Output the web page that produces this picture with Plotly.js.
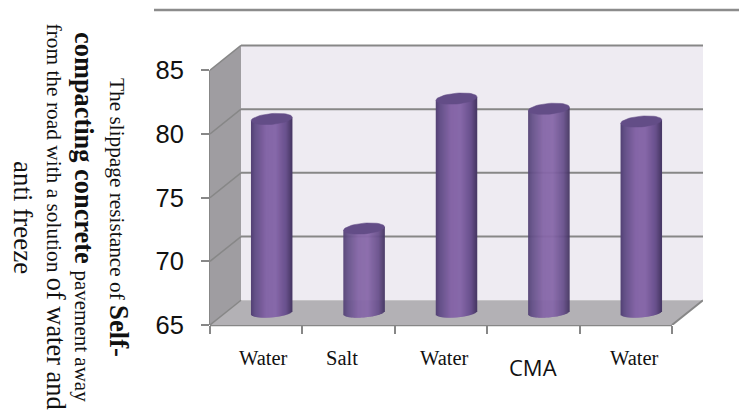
<!DOCTYPE html>
<html>
<head>
<meta charset="utf-8">
<script src="https://cdn.plot.ly/plotly-3.0.1.min.js"></script>
<style>html,body{margin:0;padding:0;background:#fff;overflow:hidden}#chart{width:739px;height:420px}</style>
</head>
<body>
<div id="chart"></div>
<script>
// Slippage resistance per de-icing solution
const categories = ['Water', 'Salt', 'Water', 'CMA', 'Water'];
const resistance = [80.2, 71.6, 81.8, 81.0, 80.0];
const yTicks = [65, 70, 75, 80, 85];
const xTicks = [0, 1, 2, 3, 4, 5];

// Plot frame in pixels and the scale that follows from it
const frame = {l: 210, r: 703, t: 40, b: 325};
const pxPerX = 92.4, pxPerY = 12.74;
const xRange = [0, (frame.r - frame.l) / pxPerX];
const yRange = [65, 65 + (frame.b - frame.t) / pxPerY];

// Oblique depth of the 3D box, in axis units
const depthX = 31 / pxPerX, depthY = 24.75 / pxPerY;

// Cylinder proportions, in axis units
const halfWidth = 20.5 / pxPerX;
const tilt = 1.7 / pxPerY;
const capB = 5.4 / pxPerY, footB = 4.8 / pxPerY;
const stripCount = 41;
const stripWidth = 1.5 / pxPerX;

const shadeStops = [
  [-1.0, [82, 65, 116]], [-0.8, [100, 80, 136]], [-0.25, [133, 102, 167]],
  [0.2, [135, 104, 169]], [0.72, [104, 80, 140]], [1.0, [70, 55, 100]]
];
function shade(u) {
  for (let i = 1; i < shadeStops.length; i++) {
    if (u <= shadeStops[i][0]) {
      const [u0, c0] = shadeStops[i - 1], [u1, c1] = shadeStops[i];
      const t = (u - u0) / (u1 - u0);
      return 'rgb(' + c0.map((c, k) => Math.round(c + (c1[k] - c) * t)).join(',') + ')';
    }
  }
  return 'rgb(70,55,100)';
}

const centers = categories.map((_, i) => i + 0.5 + depthX / 2);
const traces = [];

// Each cylinder is a stack of narrow vertical bars: the foot follows an ellipse
for (let j = 0; j < stripCount; j++) {
  const u = (j + 0.5) / stripCount * 2 - 1;
  const rim = Math.sqrt(1 - u * u);
  const base = centers.map(() => 65 + depthY / 2 + tilt * u - footB * rim);
  const top = resistance.map(v => v + depthY / 2 + tilt * u);
  traces.push({
    type: 'bar',
    x: centers.map(c => c + u * halfWidth),
    y: top.map((t, i) => t - base[i]),
    base: base,
    width: stripWidth,
    marker: {color: shade(u), line: {width: 0}},
    hoverinfo: 'skip', showlegend: false
  });
}

// Flat elliptical cap on each cylinder
resistance.forEach((v, i) => {
  const xs = [], ys = [];
  for (let k = 0; k <= 48; k++) {
    const t = k / 48 * 2 * Math.PI;
    xs.push(centers[i] + halfWidth * Math.cos(t));
    ys.push(v + depthY / 2 + tilt * Math.cos(t) + capB * Math.sin(t));
  }
  traces.push({
    type: 'scatter', mode: 'lines', x: xs, y: ys, fill: 'toself',
    fillcolor: '#634d87', line: {color: '#634d87', width: 0.5},
    hoverinfo: 'skip', showlegend: false
  });
});

// Box walls, floor and gridlines
const gridColor = '#878787';
const topFront = yTicks[yTicks.length - 1];
const xFront = xTicks[xTicks.length - 1];
function poly(points, fill) {
  return {
    type: 'path', xref: 'x', yref: 'y', layer: 'below',
    path: 'M' + points.map(p => p.join(',')).join(' L') + ' Z',
    fillcolor: fill, line: {width: 0}
  };
}
function seg(x0, y0, x1, y1, w, xref, yref) {
  return {
    type: 'line', xref: xref || 'x', yref: yref || 'y', layer: 'below', x0, y0, x1, y1,
    line: {color: gridColor, width: w}
  };
}
const shapes = [
  poly([[depthX, 65 + depthY], [xRange[1], 65 + depthY], [xRange[1], topFront + depthY], [depthX, topFront + depthY]], '#eeebf2'),
  poly([[0, 65], [depthX, 65 + depthY], [depthX, topFront + depthY], [0, topFront]], '#9f9da1'),
  poly([[0, 65], [depthX, 65 + depthY], [xRange[1], 65 + depthY], [xFront, 65]], '#b3b1b5')
];
yTicks.forEach(v => {
  shapes.push(seg(0, v, depthX, v + depthY, 1.5));
  if (v > 65) shapes.push(seg(depthX, v + depthY, xRange[1], v + depthY, 2));
});
// Front edges sit on the frame itself, so they are placed on the paper side of that axis
shapes.push(seg(0, 65, 0, topFront, 2, 'paper', 'y'));
shapes.push(seg(0, 0, xFront, 0, 2.5, 'x', 'paper'));
shapes.push(seg(xFront, 65, xRange[1], 65 + depthY, 2));
// Rule across the top of the page
shapes.push({
  type: 'line', xref: 'paper', yref: 'paper',
  x0: (154 - frame.l) / (frame.r - frame.l), x1: (739 - frame.l) / (frame.r - frame.l),
  y0: (frame.b - 10) / (frame.b - frame.t), y1: (frame.b - 10) / (frame.b - frame.t),
  line: {color: '#8c8c8c', width: 2.5}
});

// Places text by its centre, given in page pixels
function note(text, px, py, size, family, angle) {
  return {
    text: text, showarrow: false, xref: 'paper', yref: 'paper',
    x: (px - frame.l) / (frame.r - frame.l),
    y: (frame.b - py) / (frame.b - frame.t),
    xanchor: 'center', yanchor: 'middle', textangle: angle || 0,
    font: {family: family, size: size, color: '#111'}
  };
}
const serif = '"Liberation Serif", serif';
const sans = '"Open Sans", sans-serif';
const labelPx = [263, 342, 444, 533, 634];
const labelPy = [358, 358, 358, 367, 358];
const annotations = categories.map((c, i) =>
  c === 'CMA' ? note(c, labelPx[i], labelPy[i], 22, sans)
              : note(c, labelPx[i], labelPy[i], 20.5, serif));

// Rotated description beside the value axis
annotations.push(note('The slippage resistance of <b style="font-size:26.7px">Self-</b>', 118.5, 217.5, 21.3, serif, 90));
annotations.push(note('<b>compacting concrete</b> <span style="font-size:21px">pavement away</span>', 84, 217, 26.4, serif, 90));
annotations.push(note('from the road with a solution <span style="font-size:26.4px">of water and</span>', 55, 216.5, 21.4, serif, 90));
annotations.push(note('anti freeze', 23, 217, 27, serif, 90));

const layout = {
  width: 739, height: 420,
  margin: {l: frame.l, r: 739 - frame.r, t: frame.t, b: 420 - frame.b, pad: 0},
  paper_bgcolor: '#ffffff', plot_bgcolor: 'rgba(0,0,0,0)',
  barmode: 'overlay',
  showlegend: false,
  xaxis: {
    range: xRange, tickmode: 'array', tickvals: xTicks, ticktext: xTicks.map(() => ''),
    ticks: 'outside', ticklen: 8, tickwidth: 2, tickcolor: gridColor,
    showgrid: false, zeroline: false, showline: false, fixedrange: true
  },
  yaxis: {
    range: yRange, tickmode: 'array', tickvals: yTicks, ticktext: yTicks.map(String),
    ticks: 'outside', ticklen: 8, tickwidth: 2, tickcolor: gridColor,
    ticklabelstandoff: 12,
    tickfont: {family: '"Liberation Sans", Arial, sans-serif', size: 25.5, color: '#111'},
    showgrid: false, zeroline: false, showline: false, fixedrange: true
  },
  shapes: shapes,
  annotations: annotations
};

Plotly.newPlot('chart', traces, layout, {displayModeBar: false, staticPlot: true});
</script>
</body>
</html>
